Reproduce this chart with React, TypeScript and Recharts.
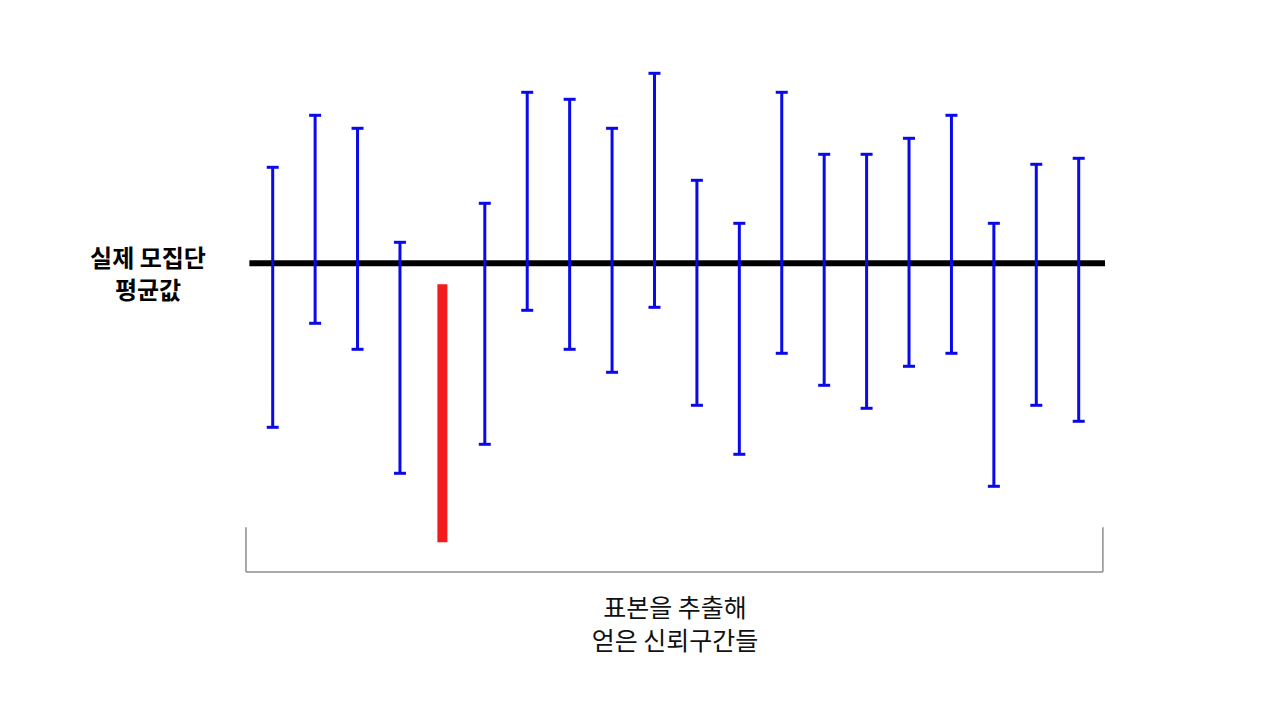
import React from "react";
import {
  ComposedChart, Scatter, ErrorBar, XAxis, YAxis, ReferenceLine,
} from "recharts";

// 20 sample confidence intervals around the true population mean (= 0)
const sampleIds = [1, 2, 3, 4, 5, 6, 7, 8, 9, 10, 11, 12, 13, 14, 15, 16, 17, 18, 19, 20];
const upperBounds = [9.6, 14.8, 13.5, 2.1, -2.1, 6.0, 17.1, 16.4, 13.5, 19.0, 8.3, 4.0, 17.1, 10.9, 10.9, 12.5, 14.8, 4.0, 9.9, 10.5];
const lowerBounds = [-16.4, -6.0, -8.6, -21.0, -27.9, -18.1, -4.7, -8.6, -10.9, -4.4, -14.2, -19.1, -9.0, -12.2, -14.5, -10.3, -9.0, -22.3, -14.2, -15.8];
const populationMean = 0;

const rows = sampleIds.map((id, i) => {
  const mid = (upperBounds[i] + lowerBounds[i]) / 2;
  return {
    id,
    mid,
    err: [mid - lowerBounds[i], upperBounds[i] - mid],
    misses: upperBounds[i] < populationMean || lowerBounds[i] > populationMean,
  };
});
const hits = rows.filter((r) => !r.misses);
const misses = rows.filter((r) => r.misses);

const BLUE = "#0a0ae8";
const RED = "#f21c1c";
const font = "'Noto Sans CJK KR', 'Noto Sans', sans-serif";

const noDot = () => <g />;

export default function App() {
  return (
    <div style={{ position: "absolute", left: 0, top: 0, width: 1280, height: 720, background: "#fff" }}>
      <ComposedChart
        width={1280}
        height={720}
        margin={{ top: 33.3, right: 171.6, bottom: 136.7, left: 243 }}
      >
        <XAxis type="number" dataKey="id" domain={[0.3, 20.7]} hide allowDataOverflow />
        <YAxis type="number" dataKey="mid" domain={[-32, 23]} hide allowDataOverflow />

        {/* bracket under the intervals */}
        <ReferenceLine
          segment={[{ x: 0.37, y: -30.87 }, { x: 20.57, y: -30.87 }]}
          stroke="#8c8c8c" strokeWidth={1.5}
        />
        <ReferenceLine
          segment={[{ x: 0.37, y: -26.4 }, { x: 0.37, y: -30.87 }]}
          stroke="#8c8c8c" strokeWidth={1.5}
        />
        <ReferenceLine
          segment={[{ x: 20.57, y: -26.4 }, { x: 20.57, y: -30.87 }]}
          stroke="#8c8c8c" strokeWidth={1.5}
        />

        <ReferenceLine
          segment={[{ x: 0.45, y: populationMean }, { x: 20.62, y: populationMean }]}
          stroke="#000" strokeWidth={6}
        />

        <Scatter data={hits} dataKey="mid" shape={noDot} isAnimationActive={false}>
          <ErrorBar dataKey="err" direction="y" width={6} stroke={BLUE} strokeWidth={3} isAnimationActive={false} />
        </Scatter>
        <Scatter data={misses} dataKey="mid" shape={noDot} isAnimationActive={false}>
          <ErrorBar dataKey="err" direction="y" width={0} stroke={RED} strokeWidth={10} isAnimationActive={false} />
        </Scatter>
      </ComposedChart>

      <div
        style={{
          position: "absolute", left: 48, top: 241, width: 200, textAlign: "center",
          fontFamily: font, fontWeight: 700, fontSize: 24, lineHeight: "32px", color: "#000",
        }}
      >
        실제 모집단<br />평균값
      </div>
      <div
        style={{
          position: "absolute", left: 525, top: 590, width: 300, textAlign: "center",
          fontFamily: font, fontWeight: 400, fontSize: 25, lineHeight: "33px", color: "#111",
        }}
      >
        표본을 추출해<br />얻은 신뢰구간들
      </div>
    </div>
  );
}
